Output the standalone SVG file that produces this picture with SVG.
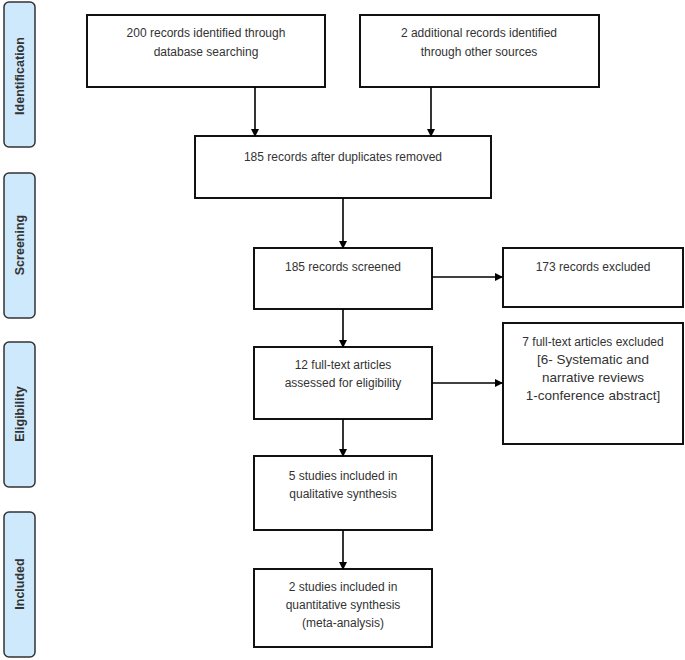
<svg xmlns="http://www.w3.org/2000/svg" width="685" height="660" viewBox="0 0 685 660">
<style>
.box{fill:#fff;stroke:#111;stroke-width:2}
.lab{fill:#cde9fb;stroke:#333;stroke-width:1.5}
.t{font-family:"Liberation Sans",Arial,sans-serif;font-size:12px;fill:#333;text-anchor:middle}
.ta{font-family:"Liberation Sans",Arial,sans-serif;font-size:13.5px;fill:#333;text-anchor:middle}
.lt{font-family:"Liberation Sans",Arial,sans-serif;font-size:12.5px;font-weight:bold;fill:#333;text-anchor:middle}
.c{stroke:#000;stroke-width:1.6;fill:none;marker-end:url(#ah)}
</style>
<defs>
<marker id="ah" markerWidth="8" markerHeight="8" refX="7" refY="4" orient="auto" markerUnits="userSpaceOnUse">
<path d="M0,0 L8,4 L0,8 Z" fill="#000"/>
</marker>
</defs>
<rect width="685" height="660" fill="#fff"/>
<g id="label-identification"><rect class="lab" x="4" y="2" width="31" height="145" rx="5"/><text class="lt" transform="translate(23.5,76) rotate(-90)">Identification</text></g>
<g id="label-screening"><rect class="lab" x="4" y="173" width="31" height="145" rx="5"/><text class="lt" transform="translate(23.5,245) rotate(-90)">Screening</text></g>
<g id="label-eligibility"><rect class="lab" x="4" y="342" width="31" height="145" rx="5"/><text class="lt" transform="translate(23.5,414) rotate(-90)">Eligibility</text></g>
<g id="label-included"><rect class="lab" x="4" y="512" width="31" height="145" rx="5"/><text class="lt" transform="translate(23.5,584) rotate(-90)">Included</text></g>

<g id="n1"><rect class="box" x="87" y="15" width="238" height="72"/><text class="t" x="206" y="37">200 records identified through</text><text class="t" x="206" y="56">database searching</text></g>
<g id="n2"><rect class="box" x="360" y="15" width="239" height="72"/><text class="t" x="479" y="37">2 additional records identified</text><text class="t" x="479" y="56">through other sources</text></g>
<g id="n3"><rect class="box" x="195" y="136" width="296" height="62"/><text class="t" x="343" y="161">185 records after duplicates removed</text></g>
<g id="n4"><rect class="box" x="254" y="248" width="178" height="61"/><text class="t" x="343" y="271">185 records screened</text></g>
<g id="n5"><rect class="box" x="503" y="248" width="180" height="59"/><text class="t" x="593" y="271">173 records excluded</text></g>
<g id="n6"><rect class="box" x="254" y="347" width="178" height="72"/><text class="t" x="343" y="369">12 full-text articles</text><text class="t" x="343" y="387">assessed for eligibility</text></g>
<g id="n7"><rect class="box" x="503" y="323" width="180" height="121"/><text class="t" x="593" y="346">7 full-text articles excluded</text><text class="ta" x="593" y="364">[6- Systematic and</text><text class="ta" x="593" y="382">narrative reviews</text><text class="ta" x="593" y="400">1-conference abstract]</text></g>
<g id="n8"><rect class="box" x="254" y="456" width="178" height="74"/><text class="t" x="343" y="480">5 studies included in</text><text class="t" x="343" y="498">qualitative synthesis</text></g>
<g id="n9"><rect class="box" x="254" y="569" width="178" height="78"/><text class="t" x="343" y="591">2 studies included in</text><text class="t" x="343" y="609">quantitative synthesis</text><text class="t" x="343" y="627">(meta-analysis)</text></g>

<g id="connectors">
<line class="c" x1="255" y1="87" x2="255" y2="136"/>
<line class="c" x1="431" y1="87" x2="431" y2="136"/>
<line class="c" x1="343" y1="198" x2="343" y2="248"/>
<line class="c" x1="432" y1="277" x2="502" y2="277"/>
<line class="c" x1="343" y1="309" x2="343" y2="347"/>
<line class="c" x1="432" y1="383" x2="502" y2="383"/>
<line class="c" x1="343" y1="419" x2="343" y2="456"/>
<line class="c" x1="343" y1="530" x2="343" y2="569"/>
</g>
</svg>
